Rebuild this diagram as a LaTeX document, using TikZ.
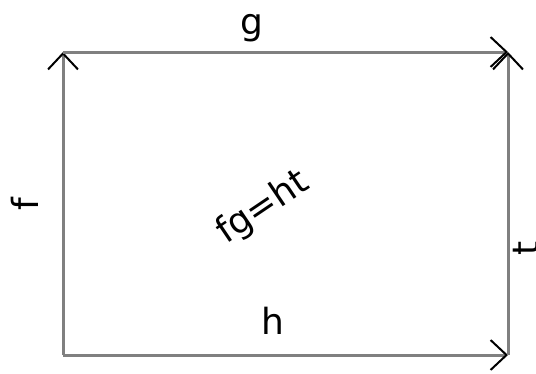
\documentclass[tikz,border=0pt]{standalone}
\usepackage{fontspec}
\setmainfont{DejaVu Sans}
\usetikzlibrary{arrows.meta}
\definecolor{edgegray}{RGB}{128,128,128}
\begin{document}
\begin{tikzpicture}[x=1pt,y=-1pt,
  edge/.style={draw=edgegray, line width=3pt,
    -{Straight Barb[color=black,line width=2pt,length=16pt,width=30pt]}},
  lbl/.style={font=\fontsize{36}{40}\selectfont, inner sep=0pt}]
\useasboundingbox (0,0) rectangle (536,373);
\coordinate (A) at (63,355);
\coordinate (B) at (63,52);
\coordinate (C) at (508,52);
\coordinate (D) at (508,355);
\draw[edge] (A) -- (B);
\draw[edge] (B) -- (C);
\draw[edge] (A) -- (D);
\draw[edge] (D) -- (C);
\node[lbl, rotate=90] (f) at (25,204) {f};
\node[lbl] (g) at (252,28) {g};
\node[lbl] (h) at (273,321) {h};
\node[lbl, rotate=90] (t) at (526,248) {t};
\node[lbl, rotate=34] (c) at (263,208) {fg=ht};
\end{tikzpicture}
\end{document}
